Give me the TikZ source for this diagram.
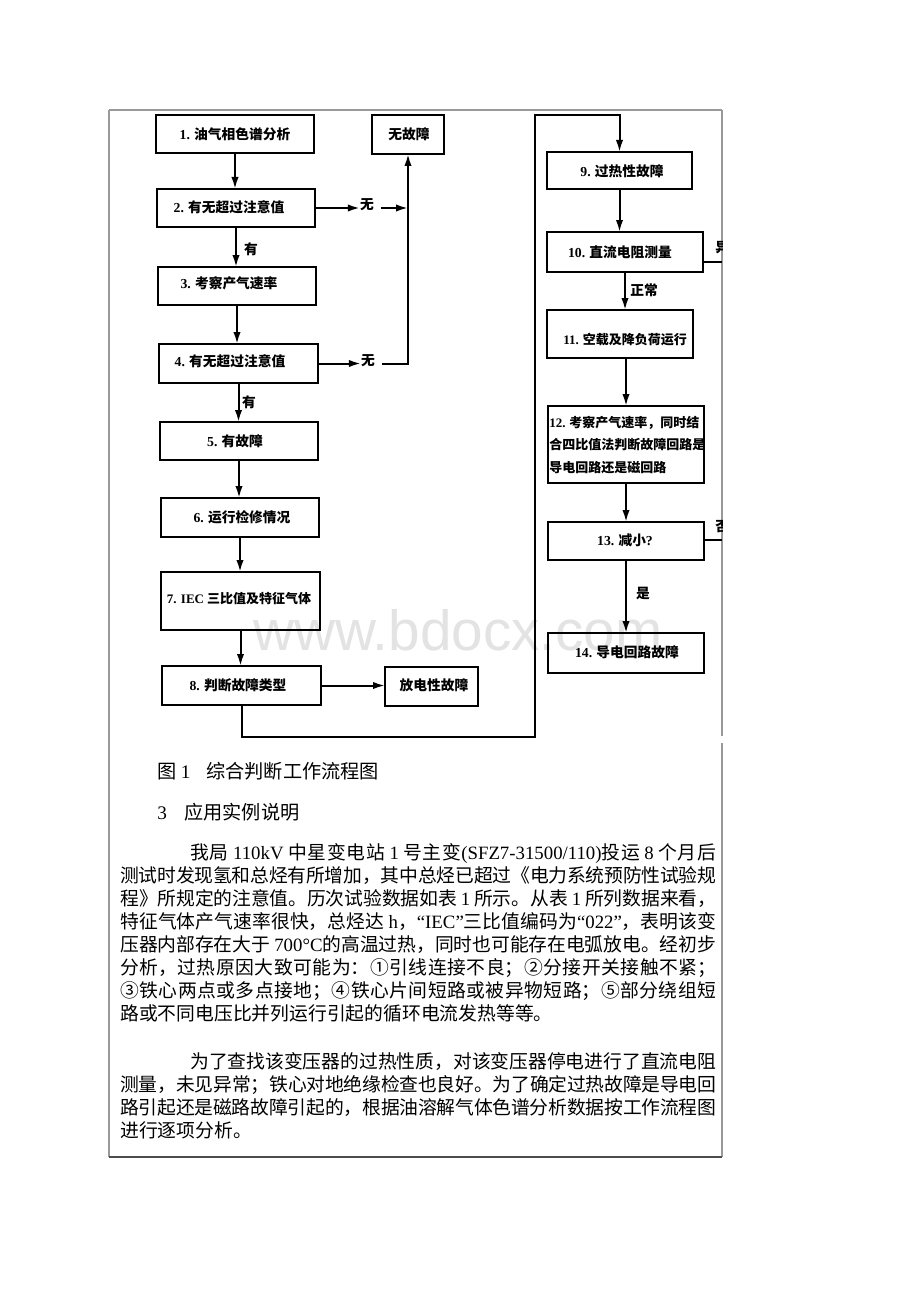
\documentclass[tikz,border=0pt]{standalone}
\usepackage{fontspec}
\setmainfont{Liberation Serif}
\newfontfamily\cjk{Noto Sans CJK SC}
\newfontfamily\wmfont{Liberation Sans}
\usetikzlibrary{arrows.meta}
\XeTeXlinebreaklocale "zh"
\XeTeXlinebreakskip=0pt plus 4pt minus 0.6pt
\newcommand\Lat[1]{{\rmfamily #1}}
\newcommand\jline[2]{\parbox[t]{#1}{\parindent=0pt\parfillskip=0pt\relax #2}}
\newcommand\bx[5]{\node[box, minimum width={(#4-#2)*0.75pt}, minimum height={(#5-#3)*0.75pt}] (#1) at ({(#2+#4)/2},{(#3+#5)/2}) {};}
\definecolor{framegray}{gray}{0.6}
\definecolor{framedark}{gray}{0.3}
\definecolor{wmgray}{gray}{0.89}
\begin{document}
\begin{tikzpicture}[x=0.75pt,y=-0.75pt,
  box/.style={draw, line width=1.1pt, inner sep=0pt, outer sep=0pt},
  ft/.style={font=\cjk\bfseries\fontsize{10.3}{12}\selectfont, inner sep=0pt},
  fts/.style={font=\cjk\bfseries\fontsize{9.75}{11}\selectfont, inner sep=0pt},
  conn/.style={line width=1.5pt},
  arr/.style={conn, -{Latex[length=9pt,width=5.5pt]}},
  body/.style={font=\cjk\fontsize{14.1}{16}\selectfont, inner sep=0pt, anchor=base west},
  captxt/.style={font=\cjk\fontsize{14.4}{16}\selectfont, inner sep=0pt, anchor=base west},
  fr/.style={framegray, line width=0.9pt}
]
\useasboundingbox (0,0) rectangle (920,1302);
\fill[white] (0,0) rectangle (920,1302);

% watermark
\node[text=wmgray, font=\wmfont\fontsize{42.5}{42.5}\selectfont, inner sep=0pt, anchor=base west] (wm) at (253,650) {www.bdocx.com};

% frame
\draw[fr] (109,110) -- (722,110);
\draw[fr] (109,110) -- (109,1157);
\draw[fr] (722,110) -- (722,736);
\draw[fr] (722,743) -- (722,1157);
\draw[framedark, line width=1pt] (109,1157) -- (722,1157);

% left column boxes
\bx{b1}{156}{115}{314}{153}
\bx{nf}{372}{115}{444}{154}
\bx{b2}{157}{189}{315}{227}
\bx{b3}{158}{267}{316}{305}
\bx{b4}{159}{344}{318}{383}
\bx{b5}{160}{422}{318}{460}
\bx{b6}{161}{498}{319}{537}
\bx{b7}{161}{572}{320}{630}
\bx{b8}{162}{666}{321}{705}
\bx{fd}{385}{667}{478}{706}
% right column boxes
\bx{b9}{547}{152}{692}{189}
\bx{b10}{547}{232}{703}{272}
\bx{b11}{547}{310}{693}{358}
\bx{b12}{548}{406}{704}{483}
\bx{b13}{548}{522}{704}{560}
\bx{b14}{548}{633}{704}{673}

% box texts
\node[ft] (t1) at (235,134) {\Lat{1.} 油气相色谱分析};
\node[ft] (tnf) at (409,134) {无故障};
\node[ft] (t2) at (229,207) {\Lat{2.} 有无超过注意值};
\node[ft] (t3) at (229,283) {\Lat{3.} 考察产气速率};
\node[ft] (t4) at (230,361) {\Lat{4.} 有无超过注意值};
\node[ft] (t5) at (235,441) {\Lat{5.} 有故障};
\node[ft] (t6) at (242,517) {\Lat{6.} 运行检修情况};
\node[fts] (t7) at (239,599) {\Lat{7. IEC} 三比值及特征气体};
\node[ft] (t8) at (238,685) {\Lat{8.} 判断故障类型};
\node[ft] (tfd) at (434,685) {放电性故障};
\node[ft] (t9) at (622,171) {\Lat{9.} 过热性故障};
\node[ft] (t10) at (620,252) {\Lat{10.} 直流电阻测量};
\node[fts] (t11) at (625,340) {\Lat{11.} 空载及降负荷运行};
\node[fts, anchor=west] (t12a) at (549,423) {\Lat{12.} 考察产气速率，同时结};
\node[fts, anchor=west] (t12b) at (549,445) {合四比值法判断故障回路是};
\node[fts, anchor=west] (t12c) at (549,468) {导电回路还是磁回路};
\node[ft] (t13) at (625,540) {\Lat{13.} 减小\Lat{?}};
\node[ft] (t14) at (627,652) {\Lat{14.} 导电回路故障};

% connector labels
\node[ft] (n2) at (367,205) {无};
\node[ft] (n4) at (368,361) {无};
\node[ft] (y2) at (251,249) {有};
\node[ft] (y4) at (249,402) {有};
\node[ft] (zc) at (644,290) {正常};
\node[ft] (shi) at (643,593) {是};
\begin{scope}
  \clip (0,0) rectangle (722,1302);
  \node[ft, anchor=west] (lyc) at (715,248) {异};
  \node[ft, anchor=west] (lfo) at (715,527) {否};
\end{scope}

% connectors left column
\draw[arr] (b1.south) -- (b1.south |- b2.north);
\draw[arr] (b2.south) -- (b2.south |- b3.north);
\draw[arr] (b3.south) -- (b3.south |- b4.north);
\draw[arr] (b4.south) -- (b4.south |- b5.north);
\draw[arr] (b5.south) -- (b5.south |- b6.north);
\draw[arr] (b6.south) -- (b6.south |- b7.north);
\draw[arr] (b7.south) -- (b7.south |- b8.north);
\draw[arr] (b8.east) -- (b8.east -| fd.west);
\coordinate (j2) at (nf.south |- b2.east);
\coordinate (j4) at (nf.south |- b4.east);
\draw[arr] (b2.east) -- (b2.east -| n2.west);
\draw[arr, shorten <=5pt] (n2.east |- j2) -- (j2);
\draw[arr] (b4.east) -- (b4.east -| n4.west);
\draw[arr, shorten <=5pt] (n4.east |- j4) -- (j4) -- (nf.south);

% long connector to right column
\coordinate (c1) at (535,737);
\coordinate (c2) at (535,115);
\draw[arr] (b8.south) |- (c1) -- (c2) -| (b9.north);

% right column
\draw[arr] (b9.south) -- (b9.south |- b10.north);
\draw[arr] (b10.south) -- (b10.south |- b11.north);
\draw[arr] (b12.north |- b11.south) -- (b12.north);
\draw[arr] (b12.south) -- (b13.north);
\draw[arr] (b13.south) -- (b14.north);
\coordinate (r10) at (722,262);
\coordinate (r13) at (722,540);
\draw[conn] (b10.east |- r10) -- (r10);
\draw[conn] (b13.east |- r13) -- (r13);

% caption and text
\node[captxt] (cap1) at (157,778) {图 \Lat{1}\hspace{12pt}综合判断工作流程图};
\node[captxt] (cap2) at (157,819) {\Lat{3}\hspace{13pt}应用实例说明};

\node[body] (p1a) at (190,859) {\jline{394.5pt}{我局 \Lat{110kV} 中星变电站 \Lat{1} 号主变\Lat{(SFZ7-31500/110)}投运 \Lat{8} 个月后}};
\node[body] (p1b) at (120,882) {\jline{447pt}{测试时发现氢和总烃有所增加，其中总烃已超过《电力系统预防性试验规}};
\node[body] (p1c) at (120,905) {\jline{447pt}{程》所规定的注意值。历次试验数据如表 \Lat{1} 所示。从表 \Lat{1} 所列数据来看，}};
\node[body] (p1d) at (120,928) {\jline{447pt}{特征气体产气速率很快，总烃达 \Lat{h}，\Lat{“IEC”}三比值编码为\Lat{“022”}，表明该变}};
\node[body] (p1e) at (120,951) {\jline{447pt}{压器内部存在大于 \Lat{700°C}的高温过热，同时也可能存在电弧放电。经初步}};
\node[body] (p1f) at (120,974) {\jline{447pt}{分析，过热原因大致可能为：①引线连接不良；②分接开关接触不紧；}};
\node[body] (p1g) at (120,997) {\jline{447pt}{③铁心两点或多点接地；④铁心片间短路或被异物短路；⑤部分绕组短}};
\node[body] (p1h) at (120,1020) {路或不同电压比并列运行引起的循环电流发热等等。};

\node[body] (p2a) at (190,1068) {\jline{394.5pt}{为了查找该变压器的过热性质，对该变压器停电进行了直流电阻}};
\node[body] (p2b) at (120,1091) {\jline{447pt}{测量，未见异常；铁心对地绝缘检查也良好。为了确定过热故障是导电回}};
\node[body] (p2c) at (120,1114) {\jline{447pt}{路引起还是磁路故障引起的，根据油溶解气体色谱分析数据按工作流程图}};
\node[body] (p2d) at (120,1137) {进行逐项分析。};
\end{tikzpicture}
\end{document}
